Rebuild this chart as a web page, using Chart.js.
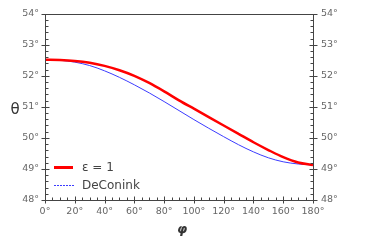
<!DOCTYPE html>
<html><head><meta charset="utf-8">
<script src="https://cdn.jsdelivr.net/npm/chart.js@4"></script>
<style>html,body{margin:0;padding:0;background:#fff}#wrap{width:374px;height:243px;position:relative}</style>
</head><body><div id="wrap"><canvas id="c"></canvas></div>
<script>
const phi = [0,10,20,30,40,50,60,70,80,90,100,110,120,130,140,150,160,170,180];
const eps1 = [52.52,52.51,52.48,52.42,52.32,52.18,52.00,51.77,51.50,51.21,50.94,50.67,50.40,50.13,49.86,49.61,49.38,49.21,49.13];
const deconink = [52.52,52.50,52.44,52.33,52.16,51.95,51.71,51.45,51.17,50.88,50.59,50.31,50.04,49.78,49.55,49.36,49.23,49.16,49.13];
const xTicks = [0,20,40,60,80,100,120,140,160,180];
const yTicks = [48,49,50,51,52,53,54];
const seriesLabels = ['ε = 1','DeConink'];
const seriesColors = ['#ff0000','#3c3cff'];

const AX = '#444';
const frame = {
  id:'frame',
  afterDraw(chart){
    const ctx = chart.ctx, a = chart.chartArea;
    const xs = chart.scales.x, yl = chart.scales.y;
    ctx.save();
    ctx.strokeStyle = AX; ctx.lineWidth = 1;
    const L = Math.round(a.left)+0.5, R = Math.round(a.right)+0.5, T = Math.round(a.top)+0.5, B = Math.round(a.bottom)+0.5;
    ctx.beginPath(); ctx.rect(L, T, R-L, B-T); ctx.stroke();
    ctx.beginPath();
    for (let v = 0; v <= 180; v += 5) {
      const p = Math.round(xs.getPixelForValue(v))+0.5;
      const major = v % 20 === 0;
      ctx.moveTo(p, B - (major?4:3)); ctx.lineTo(p, B + (major?3:0));
    }
    for (let i = 0; i <= 30; i++) {
      const v = 48 + i*0.2;
      const p = Math.round(yl.getPixelForValue(v))+0.5;
      const major = i % 5 === 0;
      ctx.moveTo(L - (major?4:0), p); ctx.lineTo(L + (major?4:3), p);
      ctx.moveTo(R + (major?4:0), p); ctx.lineTo(R - (major?4:3), p);
    }
    ctx.stroke();
    // axis titles
    ctx.fillStyle = '#333';
    ctx.font = '15px "DejaVu Sans"';
    ctx.textAlign = 'center'; ctx.textBaseline = 'middle';
    ctx.fillText('θ', 15, yl.getPixelForValue(50.9));
    ctx.font = 'italic bold 13px "DejaVu Sans"';
    ctx.fillText('φ', xs.getPixelForValue(92), 230);
    // legend
    const rows = [167, 185];
    ctx.font = '12px "DejaVu Sans"';
    ctx.textAlign = 'left';
    seriesLabels.forEach((lab, i) => {
      ctx.fillStyle = seriesColors[i];
      if (i === 0) {
        ctx.fillRect(54, rows[i]-1, 19, 3);
      } else {
        for (let x = 54; x < 73; x += 3) ctx.fillRect(x, rows[i], 2, 1);
      }
      ctx.fillStyle = '#444';
      ctx.fillText(lab, 82, rows[i]+1);
    });
    ctx.restore();
  }
};

const tickFont = {family:'DejaVu Sans', size:9.5};
new Chart(document.getElementById('c'), {
  type:'line',
  data:{datasets:[
    {label:seriesLabels[0], data:phi.map((p,i)=>({x:p,y:eps1[i]})), borderColor:seriesColors[0], borderWidth:2.5, pointRadius:0, cubicInterpolationMode:'monotone', fill:false, yAxisID:'y'},
    {label:seriesLabels[1], data:phi.map((p,i)=>({x:p,y:deconink[i]})), borderColor:seriesColors[1], borderWidth:1, pointRadius:0, cubicInterpolationMode:'monotone', fill:false, yAxisID:'y'}
  ]},
  options:{
    responsive:true, maintainAspectRatio:false, animation:false,
    layout:{padding:{top:10,left:0,right:0,bottom:0}},
    plugins:{legend:{display:false}, tooltip:{enabled:false}},
    scales:{
      x:{type:'linear', min:0, max:180, afterBuildTicks(s){s.ticks = xTicks.map(v=>({value:v}));},
         ticks:{callback:v=>v+'°', font:tickFont, color:'#666', padding:6, maxRotation:0, autoSkip:false},
         grid:{display:false, drawTicks:false}, border:{display:false},
         afterFit(s){s.height = 43;}},
      y:{position:'left', min:48, max:54, afterBuildTicks(s){s.ticks = yTicks.map(v=>({value:v}));},
         ticks:{callback:v=>v+'°', font:tickFont, color:'#666', padding:6},
         grid:{display:false, drawTicks:false}, border:{display:false},
         afterFit(s){s.width = 45;}},
      y2:{position:'right', min:48, max:54, afterBuildTicks(s){s.ticks = yTicks.map(v=>({value:v}));},
         ticks:{callback:v=>v+'°', font:tickFont, color:'#666', padding:8},
         grid:{display:false, drawTicks:false}, border:{display:false},
         afterFit(s){s.width = 61;}}
    }
  },
  plugins:[frame]
});
</script></body></html>
